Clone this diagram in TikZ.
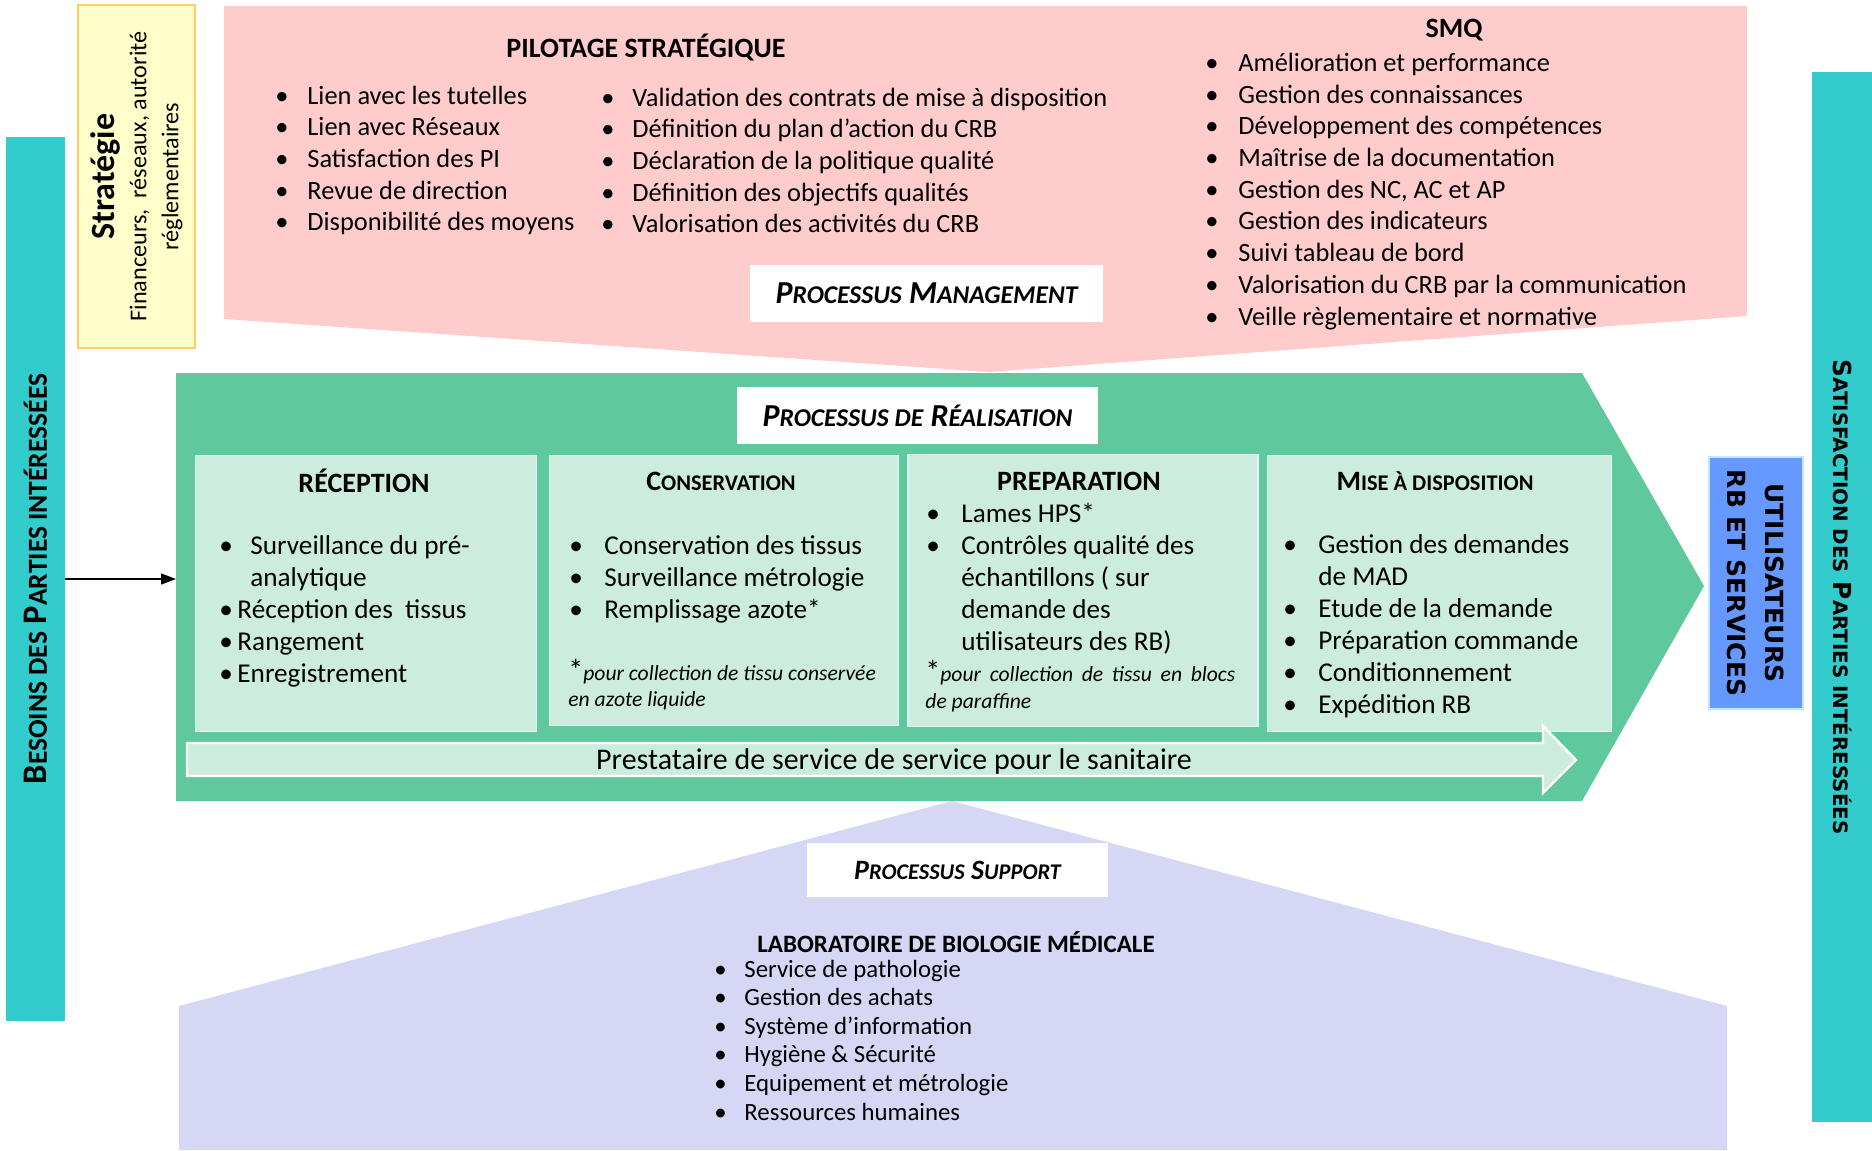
\documentclass[tikz,border=0pt]{standalone}
\usepackage{fontspec}
\setmainfont{Carlito}
\newfontfamily\dejavu{DejaVu Sans}
\usetikzlibrary{arrows.meta,positioning}

\definecolor{pilotpink}{RGB}{255,204,204}
\definecolor{realgreen}{RGB}{95,200,157}
\definecolor{cellgreen}{RGB}{204,237,222}
\definecolor{supportlav}{RGB}{214,214,245}
\definecolor{barteal}{RGB}{51,204,204}
\definecolor{userblue}{RGB}{102,153,255}
\definecolor{stratfill}{RGB}{255,255,204}
\definecolor{stratedge}{RGB}{255,204,102}

\newcommand{\bl}[1]{\makebox[#1][l]{\textbullet}}
\newcommand{\smc}[1]{\scalebox{0.8}{#1}}

\begin{document}
\begin{tikzpicture}[x=0.5pt,y=-0.5pt,>={Triangle[length=7.5pt,width=5.5pt]},
    every node/.style={inner sep=0pt},
    lst/.style={anchor=base west,align=left,font=\fontsize{13.2}{15.85}\selectfont},
    cellst/.style={anchor=base west,align=left,font=\fontsize{13.6}{16}\selectfont},
    ttl/.style={font=\bfseries\fontsize{14}{16}\selectfont},
    tag/.style={fill=white,minimum height=28.5pt,font=\bfseries\itshape\fontsize{16}{18}\selectfont},
    cell/.style={fill=cellgreen,draw=cyan!12,line width=0.6pt,anchor=north west},
    note/.style={anchor=base west,align=left,font=\itshape\fontsize{10.8}{13}\selectfont},
    bar/.style={fill=barteal,rotate=90,minimum height=30pt}]
\useasboundingbox (0,0) rectangle (1872,1150);

\fill[pilotpink] (224,6) -- (1747,6) -- (1747,316) -- (989,372) -- (224,319) -- cycle;
\fill[supportlav] (179,1006) -- (952,801) -- (1727,1006) -- (1727,1150) -- (179,1150) -- cycle;
\fill[realgreen] (176,373) -- (1582,373) -- (1704,586) -- (1582,801) -- (176,801) -- cycle;
\coordinate (realin) at (176,579);

\node[bar,minimum width=442pt,minimum height=29.5pt] (besoins) at (35.5,579)
  {\bfseries\fontsize{17.2}{18}\selectfont B\smc{ESOINS DES} P\smc{ARTIES INTÉRESSÉES}};
\node[bar,rotate=180,minimum width=525pt] (satisf) at (1842,597)
  {\dejavu\bfseries\fontsize{12.4}{14}\selectfont S\smc{ATISFACTION DES} P\smc{ARTIES INTÉRESSÉES}};
\draw[->,line width=0.6pt] (besoins.south) -- (realin);

\node[rotate=90,fill=stratfill,draw=stratedge,line width=1pt,minimum width=171.5pt,minimum height=58.5pt,
  align=center,font=\fontsize{12.1}{16}\selectfont] (strat) at (136.5,176.5)
  {{\bfseries\fontsize{17}{16}\selectfont Stratégie}\\Financeurs,\ \ réseaux, autorité\\réglementaires};
\node[rotate=-90,fill=userblue,draw=cyan!25,line width=0.6pt,minimum width=126pt,minimum height=47pt,
  align=center,font=\dejavu\bfseries\fontsize{12.5}{19}\selectfont] (users) at (1756,583)
  {UTILISATEURS\\RB ET SERVICES};

\node[font=\bfseries\fontsize{14}{16}\selectfont] (pilot) at (646,48) {PILOTAGE STRATÉGIQUE};
\node[lst] (pilot1) at (275,231) {\bl{16pt}Lien avec les tutelles\\\bl{16pt}Lien avec Réseaux\\
  \bl{16pt}Satisfaction des PI\\\bl{16pt}Revue de direction\\\bl{16pt}Disponibilité des moyens};
\node[lst] (pilot2) at (601,233) {\bl{15.5pt}Validation des contrats de mise à disposition\\
  \bl{15.5pt}Définition du plan d’action du CRB\\\bl{15.5pt}Déclaration de la politique qualité\\
  \bl{15.5pt}Définition des objectifs qualités\\\bl{15.5pt}Valorisation des activités du CRB};
\node[font=\bfseries\fontsize{14}{16}\selectfont] (smq) at (1454,30) {SMQ};
\node[lst] (smqlist) at (1205,325) {\bl{16.5pt}Amélioration et performance\\\bl{16.5pt}Gestion des connaissances\\
  \bl{16.5pt}Développement des compétences\\\bl{16.5pt}Maîtrise de la documentation\\
  \bl{16.5pt}Gestion des NC, AC et AP\\\bl{16.5pt}Gestion des indicateurs\\\bl{16.5pt}Suivi tableau de bord\\
  \bl{16.5pt}Valorisation du CRB par la communication\\\bl{16.5pt}Veille règlementaire et normative};
\node[tag,minimum width=176.5pt] (mgmt) at (926.5,293.5) {P\smc{ROCESSUS} M\smc{ANAGEMENT}};

\node[tag,minimum width=180.5pt] (realis) at (917.5,415.5) {P\smc{ROCESSUS DE} R\smc{ÉALISATION}};
\node[cell,minimum width=170.5pt,minimum height=138pt] (rec) at (195,455) {};
\node[cell,minimum width=174.5pt,minimum height=135pt] (cons) [right=6pt of rec.north east,anchor=north west] {};
\node[cell,minimum width=175pt,minimum height=136pt] (prep) [right=4pt of cons.north east,anchor=north west,yshift=0.5pt] {};
\node[cell,minimum width=172pt,minimum height=138pt] (mad) [right=4pt of prep.north east,anchor=north west,yshift=-0.5pt] {};

\node[ttl] (rect) at (364,481) {RÉCEPTION};
\node[cellst] (recl) at (219,682) {\bl{15.5pt}Surveillance du pré-\\\hspace*{15.5pt}analytique\\
  \textbullet\,Réception des\ \ tissus\\\textbullet\,Rangement\\\textbullet\,Enregistrement};
\node[ttl] (const) at (721,481) {C\smc{ONSERVATION}};
\node[cellst] (consl) at (569,618) {\bl{17.5pt}Conservation des tissus\\\bl{17.5pt}Surveillance métrologie\\
  \bl{17.5pt}Remplissage azote*};
\node[note] (consn) at (568,706) {{\upshape\fontsize{15}{13}\selectfont*}pour collection de tissu conservée\\en azote liquide};
\node[ttl] (prept) at (1079,481) {PREPARATION};
\node[cellst] (prepl) at (926,650) {\bl{17.5pt}Lames HPS*\\\bl{17.5pt}Contrôles qualité des\\
  \hspace*{17.5pt}échantillons ( sur\\\hspace*{17.5pt}demande des\\\hspace*{17.5pt}utilisateurs des RB)};
\node[note,text width=155pt,align=justify,font=\itshape\fontsize{10.8}{13.5}\selectfont] (prepn) at (925,681)
  {{\upshape\fontsize{15}{13}\selectfont*}pour collection de tissu en blocs\linebreak de paraffine};
\node[ttl] (madt) at (1435,481) {M\smc{ISE À DISPOSITION}};
\node[cellst] (madl) at (1283,713) {\bl{17.5pt}Gestion des demandes\\\hspace*{17.5pt}de MAD\\
  \bl{17.5pt}Etude de la demande\\\bl{17.5pt}Préparation commande\\\bl{17.5pt}Conditionnement\\
  \bl{17.5pt}Expédition RB};

\draw[white,line width=1.2pt,fill=cellgreen] (187,743) -- (1543,743) -- (1543,726) -- (1576,760)
  -- (1543,793) -- (1543,776) -- (187,776) -- cycle;
\node[font=\fontsize{15}{16}\selectfont] (presta) at (894,761) {Prestataire de service de service pour le sanitaire};

\node[tag,minimum width=150.5pt,minimum height=27pt,font=\bfseries\itshape\fontsize{14}{16}\selectfont] (support)
  at (957.5,870) {P\smc{ROCESSUS} S\smc{UPPORT}};
\node[font=\bfseries\fontsize{12.5}{14}\selectfont] (lbm) at (956,942) {LABORATOIRE DE BIOLOGIE MÉDICALE};
\node[lst,font=\fontsize{12.4}{14.3}\selectfont] (lbml) at (714,1120) {\bl{15pt}Service de pathologie\\
  \bl{15pt}Gestion des achats\\\bl{15pt}Système d’information\\\bl{15pt}Hygiène \& Sécurité\\
  \bl{15pt}Equipement et métrologie\\\bl{15pt}Ressources humaines};
\end{tikzpicture}
\end{document}
